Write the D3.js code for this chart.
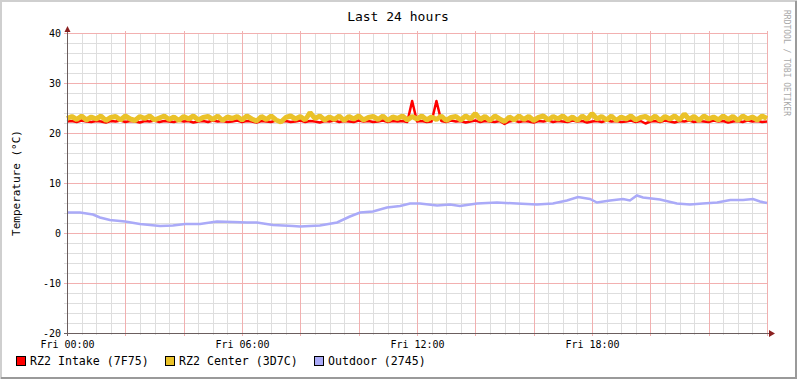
<!DOCTYPE html>
<html><head><meta charset="utf-8">
<script src="https://cdn.jsdelivr.net/npm/d3@7"></script>
<style>
html,body{margin:0;padding:0;background:#fff;}
svg{display:block;font-family:"DejaVu Sans Mono",monospace;}
</style></head>
<body><svg id="c" width="797" height="379"></svg>
<script>
// ---- data ----
const title = "Last 24 hours";
const yLabel = "Temperature (°C)";
const watermark = "RRDTOOL / TOBI OETIKER";
const seriesNames = ["RZ2 Intake (7F75)", "RZ2 Center (3D7C)", "Outdoor (2745)"];
const seriesColors = ["#FF0000", "#EAC229", "#AAAAF8"];
const xTickHours = [0, 6, 12, 18];
const xTickLabels = ["Fri 00:00", "Fri 06:00", "Fri 12:00", "Fri 18:00"];
const yTicks = [-20, -10, 0, 10, 20, 30, 40];
// 10-minute samples, 0h .. 24h
const intake = [
22.3,22.4,22.2,22.5,22.3,22.2,22.4,22.3,22.1,22.4,
22.3,22.5,22.2,22.4,22.3,22.1,22.4,22.3,22.5,22.2,
22.4,22.3,22.2,22.5,22.3,22.4,22.1,22.3,22.4,22.2,
22.5,22.3,22.4,22.2,22.3,22.5,22.2,22.4,22.3,22.1,
22.4,22.3,22.2,22.5,22.3,22.4,22.2,22.3,22.5,22.2,
22.4,22.3,22.1,22.4,22.3,22.5,22.2,22.4,22.3,22.2,
22.5,22.3,22.4,22.2,22.3,22.5,22.2,22.4,22.3,22.4,
22.2,26.4,22.3,22.4,22.2,22.3,26.4,22.4,22.2,22.5,
22.3,22.4,22.1,22.3,22.5,22.2,22.4,22.3,22.2,22.4,
21.8,22.3,22.5,22.2,22.4,22.3,22.1,22.4,22.3,22.5,
22.2,22.4,22.3,22.2,22.5,22.3,22.4,22.1,22.3,22.4,
22.2,22.5,22.3,22.4,22.2,22.3,22.5,22.2,22.4,21.9,
22.3,22.4,22.2,22.5,22.3,22.1,22.4,22.3,22.5,22.2,
22.4,22.3,22.2,22.5,22.3,22.4,22.1,22.3,22.4,22.2,
22.5,22.3,22.4,22.2,22.3];
const center = [
22.9,23.3,22.7,23.4,22.6,23.2,22.8,23.4,22.5,23.1,
23.3,22.6,23.4,22.8,22.5,23.3,22.9,23.4,22.6,23.0,
23.4,22.7,23.2,22.5,23.3,22.8,23.4,22.6,23.1,23.3,
22.7,23.4,22.5,23.2,22.9,23.3,22.6,23.4,22.8,22.4,
23.3,22.7,23.4,22.6,22.2,23.1,23.4,22.8,23.3,22.6,
24.1,22.9,23.4,22.6,23.2,22.7,23.4,22.5,23.3,22.8,
23.4,22.6,23.1,23.3,22.7,23.4,22.5,23.2,22.9,23.4,
22.6,23.3,22.8,23.4,22.6,23.2,22.7,23.4,22.5,23.1,
23.3,22.6,23.4,22.8,23.9,22.7,23.3,22.5,23.4,22.8,
22.3,23.2,22.6,23.4,22.7,23.3,22.5,23.1,23.4,22.6,
23.3,22.8,23.4,22.6,23.2,22.5,23.4,22.7,23.9,22.8,
23.3,22.6,23.4,22.5,23.2,22.8,23.4,22.6,23.1,23.3,
22.7,23.4,22.5,23.3,22.8,23.4,22.6,23.8,22.7,23.3,
22.5,23.4,22.8,23.2,22.6,23.4,22.7,23.3,22.5,23.4,
22.8,23.2,22.6,23.4,22.9];
const outdoorHours = [0,0.45,0.89,1.13,1.47,1.99,2.5,3.19,3.63,4.05,4.56,5.14,5.69,6.17,6.51,7.06,7.75,7.99,8.67,9.26,9.7,10.05,10.49,10.97,11.42,11.76,12.1,12.69,13.13,13.47,14.06,14.74,15.43,16.11,16.66,17.14,17.52,17.93,18.17,18.62,19.06,19.3,19.54,19.75,20.33,20.91,21.36,21.8,22.29,22.74,23.18,23.52,23.76,24];
const outdoorTemps = [4.1,4.1,3.7,3.1,2.6,2.3,1.8,1.4,1.5,1.8,1.8,2.3,2.2,2.1,2.1,1.6,1.4,1.3,1.5,2.1,3.3,4.1,4.3,5.1,5.4,5.9,5.9,5.5,5.7,5.4,5.9,6.1,5.9,5.7,5.9,6.5,7.2,6.8,6.1,6.5,6.8,6.5,7.5,7.1,6.7,5.9,5.7,5.9,6.1,6.6,6.6,6.8,6.3,6.0];

// ---- drawing ----
const svg = d3.select("#c");
const W = 797, H = 379;
const x = d3.scaleLinear().domain([0, 24]).range([67, 767]);
const y = d3.scaleLinear().domain([-20, 40]).range([333, 33]);

svg.append("rect").attr("x",0).attr("y",0).attr("width",W).attr("height",H).attr("fill","#fff");
svg.append("path").attr("d",`M1,${H} V1 H${W}`).attr("stroke","#CFCFCF").attr("stroke-width",2).attr("fill","none");
svg.append("path").attr("d",`M1,${H-1} H${W-1} V1`).attr("stroke","#9A9A9A").attr("stroke-width",2).attr("fill","none");

const grid = svg.append("g").attr("shape-rendering","crispEdges");
d3.range(-20, 41, 2).filter(v => v % 10 !== 0).forEach(v => {
  grid.append("line").attr("x1",64).attr("x2",768).attr("y1",Math.round(y(v))+0.5).attr("y2",Math.round(y(v))+0.5)
    .attr("stroke","#DEDEDE");
});
d3.range(0, 24.01, 0.5).filter(h => h % 2 !== 0).forEach(h => {
  grid.append("line").attr("x1",Math.round(x(h))+0.5).attr("x2",Math.round(x(h))+0.5).attr("y1",33).attr("y2",335)
    .attr("stroke","#DEDEDE");
});
yTicks.forEach(v => {
  grid.append("line").attr("x1",64).attr("x2",768).attr("y1",Math.round(y(v))+0.5).attr("y2",Math.round(y(v))+0.5)
    .attr("stroke","#F2B0B0");
});
d3.range(0, 24.01, 2).forEach(h => {
  grid.append("line").attr("x1",Math.round(x(h))+0.5).attr("x2",Math.round(x(h))+0.5).attr("y1",31).attr("y2",336)
    .attr("stroke","#F2B0B0");
});

// series
const line10 = d3.line().x((d,i) => x(i/6)).y(d => y(d)).curve(d3.curveLinear);
svg.append("path").datum(intake).attr("d", line10).attr("fill","none")
  .attr("stroke", seriesColors[0]).attr("stroke-width",2.5).attr("stroke-linejoin","round");
svg.append("path").datum(center).attr("d", line10).attr("fill","none")
  .attr("stroke", seriesColors[1]).attr("stroke-width",5).attr("stroke-linejoin","bevel");
const outLine = d3.line().x((d,i) => x(outdoorHours[i])).y(d => y(d)).curve(d3.curveLinear);
svg.append("path").datum(outdoorTemps).attr("d", outLine).attr("fill","none")
  .attr("stroke", seriesColors[2]).attr("stroke-width",2.5);

const ax = svg.append("g").attr("shape-rendering","crispEdges");
ax.append("line").attr("x1",64).attr("x2",770).attr("y1",333.5).attr("y2",333.5).attr("stroke","#6B5E5E");
ax.append("line").attr("x1",67.5).attr("x2",67.5).attr("y1",336).attr("y2",31).attr("stroke","#6B5E5E");
svg.append("path").attr("d","M769,330 L775,333.5 L769,337 Z").attr("fill","#8B2020");
svg.append("path").attr("d","M64.5,32 L67.5,26 L70.5,32 Z").attr("fill","#8B2020");

const yAxis = d3.axisLeft(y).tickValues(yTicks).tickSize(0).tickPadding(0).tickFormat(d => String(d));
const gy = svg.append("g").attr("transform","translate(61,0)").call(yAxis);
gy.select(".domain").remove();
gy.selectAll("text").attr("font-family","DejaVu Sans Mono").attr("font-size","10px").attr("fill","#000");

const xAxis = d3.axisBottom(x).tickValues(xTickHours).tickSize(0).tickPadding(0)
  .tickFormat((d,i) => xTickLabels[i]);
const gx = svg.append("g").attr("transform","translate(0,341)").call(xAxis);
gx.select(".domain").remove();
gx.selectAll("text").attr("font-family","DejaVu Sans Mono").attr("font-size","10px").attr("fill","#000");

svg.append("text").attr("x",398).attr("y",21).attr("text-anchor","middle")
  .attr("font-size","13px").attr("fill","#000").text(title);
svg.append("text").attr("transform","translate(20,183) rotate(-90)").attr("text-anchor","middle")
  .attr("font-size","11px").attr("fill","#000").text(yLabel);
svg.append("text").attr("transform","translate(784,63) rotate(90)").attr("text-anchor","middle")
  .attr("font-size","8px").attr("fill","#A8A8A8").text(watermark);

const legX = [16, 165, 314];
seriesNames.forEach((n,i) => {
  svg.append("rect").attr("x",legX[i]+0.5).attr("y",356.5).attr("width",9).attr("height",9)
    .attr("fill",seriesColors[i]).attr("stroke","#000").attr("shape-rendering","crispEdges");
  svg.append("text").attr("x",legX[i]+14).attr("y",365).attr("font-size","11.6px").attr("fill","#000").text(n);
});
</script></body></html>
